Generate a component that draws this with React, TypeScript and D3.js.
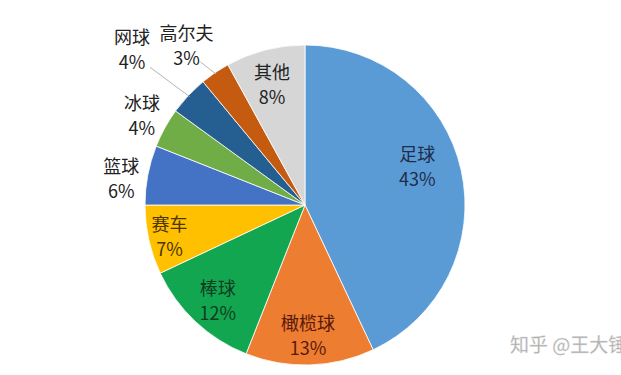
import React from "react";
import * as d3 from "d3";

const categories = ["足球", "橄榄球", "棒球", "赛车", "篮球", "冰球", "网球", "高尔夫", "其他"];
const values = [43, 13, 12, 7, 6, 4, 4, 3, 8];
const colors = ["#5b9bd5", "#ed7d31", "#13a651", "#ffc000", "#4472c4", "#70ad47", "#255e91", "#c55a11", "#d6d6d6"];
const textColors = ["#1f2d4a", "#5a1a0a", "#0f3d20", "#4a3400", "#222222", "#222222", "#222222", "#222222", "#222222"];
// label layout: radius factor and angle offset (degrees) from slice middle
const labelRadius = [0.74, 0.82, 0.81, 0.87, 1.16, 1.16, 1.45, 1.24, 0.775];
const labelAngleOffset = [-5.9, 0.5, -0.9, -0.5, -2.6, -0.3, -1.4, -2.5, -1];

export default function App() {
  const width = 621;
  const height = 375;
  const cx = 305;
  const cy = 205;
  const r = 160;

  const pie = d3.pie<number>().sort(null).value((d) => d)(values);
  const arc = d3.arc<d3.PieArcDatum<number>>().innerRadius(0).outerRadius(r);

  const labelPos = (i: number) => {
    const a = pie[i];
    const mid = (a.startAngle + a.endAngle) / 2 + (labelAngleOffset[i] * Math.PI) / 180;
    const rr = r * labelRadius[i];
    return [Math.sin(mid) * rr, -Math.cos(mid) * rr];
  };

  return (
    <svg width={width} height={height} style={{ position: "absolute", left: 0, top: 0, background: "#fff" }}
      fontFamily="'Noto Sans CJK SC', 'Noto Sans', sans-serif">
      <g transform={`translate(${cx},${cy})`}>
        {pie.map((p, i) => (
          <path key={i} d={arc(p) || ""} fill={colors[i]} stroke="#ffffff" strokeWidth={0.8} />
        ))}
        {pie.map((p, i) => {
          const mid = (p.startAngle + p.endAngle) / 2;
          if (i !== 6 && i !== 7) return null;
          const [lx, ly] = labelPos(i);
          const ex = Math.sin(mid) * (r * 0.99);
          const ey = -Math.cos(mid) * (r * 0.99);
          const sx = i === 6 ? lx + 18 : lx + 14;
          const sy = i === 6 ? ly + 17 : ly + 16;
          return <polyline key={"l" + i} points={`${sx},${sy} ${ex},${ey}`} fill="none" stroke="#b5b5b5" strokeWidth={1} />;
        })}
        {pie.map((p, i) => {
          const [lx, ly] = labelPos(i);
          return (
            <text key={"t" + i} x={lx} y={ly} textAnchor="middle" fontSize={18} fill={textColors[i]}>
              <tspan x={lx} dy={-6}>{categories[i]}</tspan>
              <tspan x={lx} dy={25}>{values[i] + "%"}</tspan>
            </text>
          );
        })}
      </g>
      <text x={510} y={352} fontSize={19} fill="#a8a8a8" stroke="#e0e0e0" strokeWidth={0.4}>知乎 @王大锤</text>
    </svg>
  );
}
